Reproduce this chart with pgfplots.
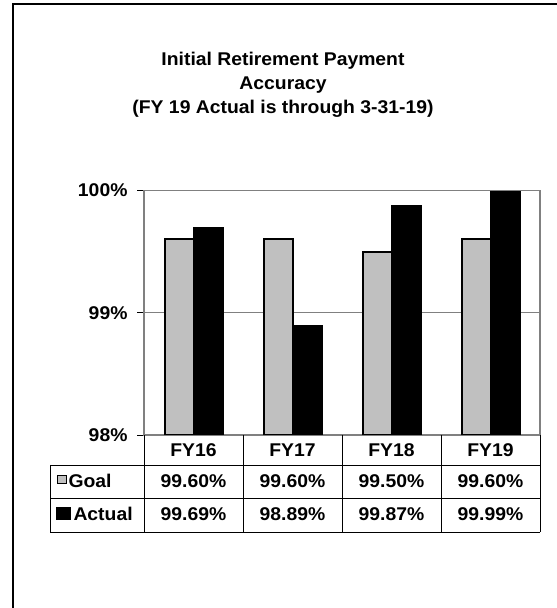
\documentclass[border=0pt]{standalone}
\usepackage{pgfplots}
\pgfplotsset{compat=1.18}
\usepackage{fontspec}
\setmainfont{Liberation Sans}[FakeStretch=1.05]
\definecolor{goalgray}{RGB}{192,192,192}
\definecolor{framegray}{RGB}{128,128,128}
\newcommand{\tf}{\bfseries\fontsize{18.5}{22}\selectfont}

\begin{document}
\begin{tikzpicture}[x=1bp,y=1bp]
\useasboundingbox (0,0) rectangle (557,608);
% outer frame, cut off at right and bottom
\draw[black, line width=1.3bp] (13,0) -- (13,604) -- (557,604);

% title
\begin{scope}[every node/.style={font=\bfseries\fontsize{18.5}{24}\selectfont, anchor=base, inner sep=0}]
\node at (283,542) {Initial Retirement Payment};
\node at (283,518) {Accuracy};
\node at (283,494) {(FY 19 Actual is through 3-31-19)};
\end{scope}

\begin{axis}[
  at={(144bp,173bp)}, anchor=south west,
  scale only axis, width=396bp, height=244.5bp,
  ymin=98, ymax=100, xmin=-0.5, xmax=3.5,
  ybar=0pt, bar width=29bp,
  ytick={98,99,100}, yticklabels={98\%,99\%,100\%},
  xtick=\empty, ytick pos=left,
  ymajorgrids, grid style={framegray, line width=0.9bp},
  axis line style={framegray, line width=1.1bp},
  tick align=outside, major tick length=7bp,
  ytick style={black, line width=0.9bp},
  yticklabel style={font=\tf, xshift=-6bp},
]
\addplot[draw=black, line width=2bp, fill=goalgray]
  coordinates {(0,99.60) (1,99.60) (2,99.50) (3,99.60)};
\addplot[draw=black, line width=2bp, fill=black]
  coordinates {(0,99.69) (1,98.89) (2,99.87) (3,99.99)};
\end{axis}

% data table below the axis
\begin{scope}[black, line width=0.9bp]
\foreach \x in {144,243,342,441,540} \draw (\x,173) -- (\x,76);
\draw (50,143) -- (50,76);
\foreach \y in {143,110,76} \draw (50,\y) -- (540,\y);
\end{scope}

\begin{scope}[every node/.style={font=\tf, anchor=base, inner sep=0}]
\node at (193.5,151) {FY16};
\node at (292.5,151) {FY17};
\node at (391.5,151) {FY18};
\node at (490.5,151) {FY19};
\node at (193.5,120) {99.60\%};
\node at (292.5,120) {99.60\%};
\node at (391.5,120) {99.50\%};
\node at (490.5,120) {99.60\%};
\node at (193.5,87) {99.69\%};
\node at (292.5,87) {98.89\%};
\node at (391.5,87) {99.87\%};
\node at (490.5,87) {99.99\%};
\node[anchor=base west] at (68.3,120) {Goal};
\node[anchor=base west] at (73.3,87) {Actual};
\end{scope}
\draw[black, line width=1.2bp, fill=goalgray] (57.8,124.2) rectangle (66.2,132.5);
\fill[black] (56,88) rectangle (70.7,101.3);
\end{tikzpicture}
\end{document}
